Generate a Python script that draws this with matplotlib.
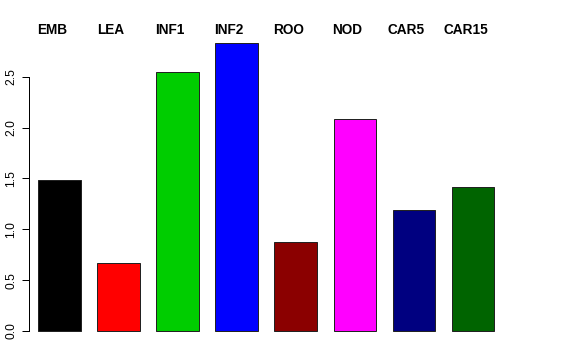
import matplotlib
matplotlib.use("Agg")
import matplotlib.pyplot as plt
import matplotlib.transforms as mtransforms

categories = ["EMB", "LEA", "INF1", "INF2", "ROO", "NOD", "CAR5", "CAR15"]
values = [1.483, 0.665, 2.547, 2.836, 0.871, 2.083, 1.189, 1.417]
colors = ["#000000", "#FF0000", "#00CD00", "#0000FF", "#8B0000", "#FF00FF", "#000080", "#006400"]
yticks = [0.0, 0.5, 1.0, 1.5, 2.0, 2.5]
ytick_labels = ["0.0", "0.5", "1.0", "1.5", "2.0", "2.5"]

plt.rcParams['font.family'] = ['Liberation Sans', 'DejaVu Sans']

W, H = 576, 360
fig = plt.figure(figsize=(W / 72, H / 72), dpi=72)
left_px, right_px, top_px, bot_px = 29, 512, 31, 342.5
ax = fig.add_axes([left_px / W, (H - bot_px) / H, (right_px - left_px) / W, (bot_px - top_px) / H])

x = list(range(len(categories)))
ax.bar(x, values, width=0.722, color=colors, edgecolor="#222222", linewidth=1)
ax.set_xlim(-0.513, 7.658)
ax.set_ylim(-0.113, 2.95)

for s in ["top", "right", "bottom"]:
    ax.spines[s].set_visible(False)
ax.spines["left"].set_bounds(0, 2.5)
ax.spines["left"].set_linewidth(1)
ax.set_xticks([])
ax.set_yticks(yticks)
ax.set_yticklabels(ytick_labels, fontsize=12)
ax.tick_params(axis="y", length=7, width=1, pad=4.5)
for lbl in ax.get_yticklabels():
    lbl.set_rotation(90)
    lbl.set_va("center")

trans = mtransforms.blended_transform_factory(ax.transData, fig.transFigure)
for i, name in enumerate(categories):
    ax.text(i - 0.127, (H - 34.3) / H, name, transform=trans, ha="center", va="baseline",
            fontsize=13.6, fontweight="bold", clip_on=False)

fig.savefig("out.png", dpi=72)
